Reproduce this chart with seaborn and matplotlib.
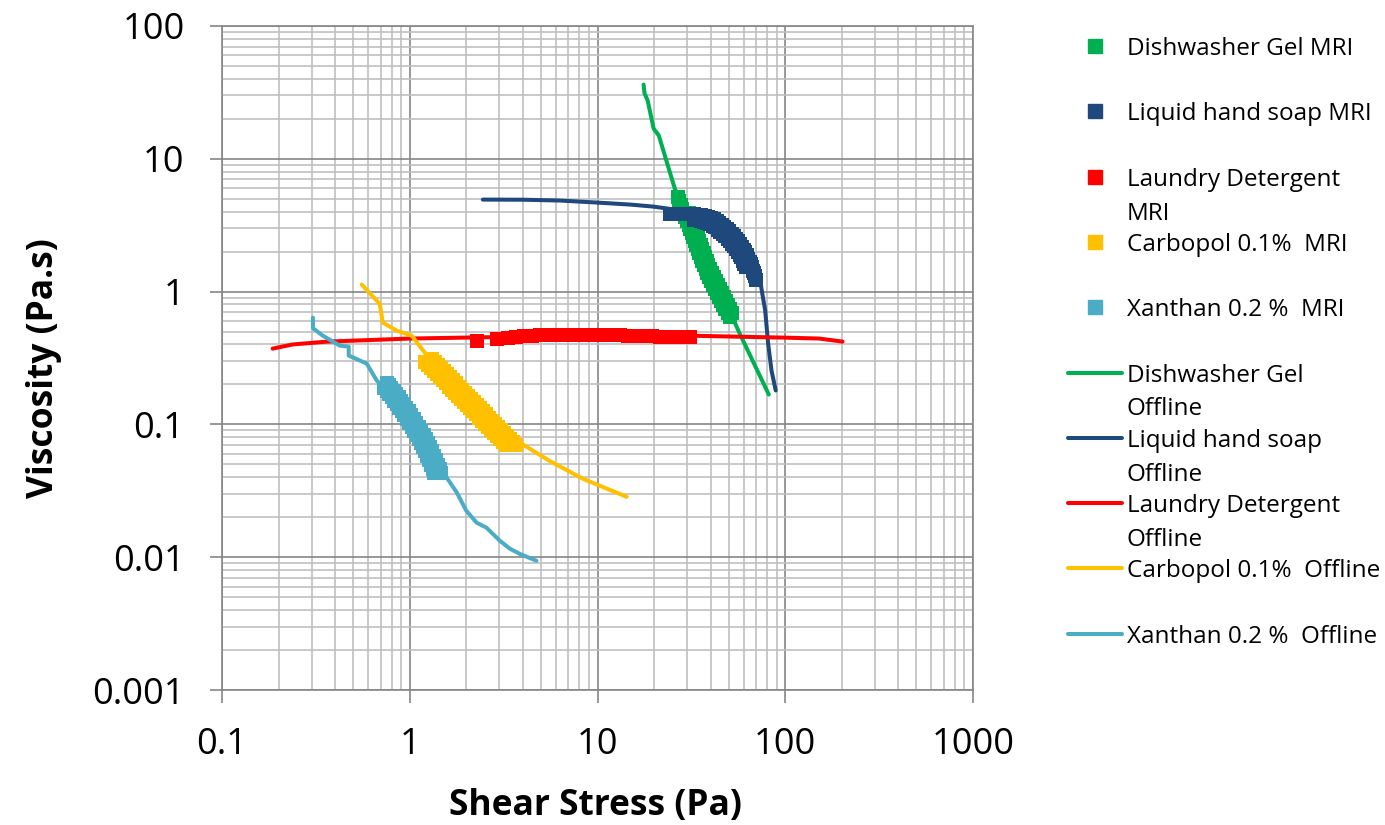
import matplotlib
matplotlib.use("Agg")
import matplotlib.pyplot as plt
from matplotlib.lines import Line2D
from matplotlib.ticker import LogLocator, NullFormatter, FuncFormatter
import numpy as np
import pandas as pd
import seaborn as sns

# ---------------------------------------------------------------------------
# data (shear stress in Pa, viscosity in Pa.s)

samples = ["Dishwasher Gel", "Liquid hand soap", "Laundry Detergent",
           "Carbopol 0.1%", "Xanthan 0.2 %"]
colors = ["#00B050", "#1F497D", "#FF0000", "#FFC000", "#4BACC6"]

# offline rheometer curves
dish_off_x = [17.6, 17.8, 18.5, 19.9, 21.2, 25.8, 37.3, 57.2, 81.7]
dish_off_y = [36.2, 31.1, 27.5, 16.9, 15.0, 5.97, 1.87, 0.483, 0.168]

soap_off_x = [2.45, 4.0, 6.3, 10, 15, 19.7, 24.2, 32.2, 44.8, 57, 67, 73, 78.2, 81, 84.5, 89]
soap_off_y = [4.93, 4.92, 4.85, 4.68, 4.52, 4.37, 4.2, 3.87, 3.14, 2.42, 1.8, 1.27, 0.72, 0.41, 0.254, 0.18]

laundry_off_x = [0.186, 0.238, 0.362, 1.0, 3.0, 10, 30, 100, 152, 202]
laundry_off_y = [0.372, 0.40, 0.42, 0.443, 0.455, 0.466, 0.466, 0.45, 0.443, 0.42]

carbo_off_x = [0.555, 0.692, 0.718, 0.853, 1.025, 1.2, 2.06, 3.85, 5.57, 8.35, 14.3]
carbo_off_y = [1.13, 0.81, 0.585, 0.508, 0.466, 0.348, 0.1475, 0.073, 0.053, 0.039, 0.0285]

xan_off_x = [0.305, 0.305, 0.344, 0.424, 0.473, 0.473, 0.59, 0.667, 0.863, 1.103,
             1.359, 1.574, 1.78, 2.0, 2.27, 2.56, 3.02, 3.41, 3.85, 4.73]
xan_off_y = [0.637, 0.53, 0.466, 0.392, 0.385, 0.33, 0.287, 0.214, 0.151, 0.0898,
             0.0498, 0.0397, 0.0307, 0.0224, 0.0182, 0.0167, 0.0133, 0.0116, 0.0106, 0.0094]

# MRI measurements (dense point clouds, two rows across each band)
dish_mri_x = [26.80, 27.25, 27.80, 28.31, 28.87, 29.41, 29.95, 30.55, 31.11, 31.69,
              32.28, 32.88, 33.49, 34.11, 34.75, 35.39, 36.05, 36.76, 37.63, 38.51,
              39.42, 40.30, 41.25, 42.23, 43.23, 44.30, 45.50, 46.75, 48.03, 49.28, 50.64,
              30.60, 31.17, 31.75, 32.38, 32.98, 33.59, 34.22, 34.85, 35.50, 36.16,
              36.84, 37.51, 38.21, 38.97, 39.89, 40.82, 41.79, 42.72, 43.73, 44.76,
              45.82, 46.96, 48.23, 49.56, 50.91, 52.24]
dish_mri_y = [5.19, 4.84, 4.52, 4.22, 3.93, 3.67, 3.42, 3.19, 2.98, 2.78,
              2.59, 2.42, 2.26, 2.11, 1.96, 1.83, 1.71, 1.59, 1.49, 1.39,
              1.29, 1.21, 1.13, 1.05, 0.98, 0.915, 0.854, 0.797, 0.743, 0.694, 0.647,
              3.93, 3.67, 3.42, 3.19, 2.98, 2.78, 2.59, 2.42, 2.26, 2.11,
              1.96, 1.83, 1.71, 1.59, 1.49, 1.39, 1.29, 1.21, 1.13, 1.05,
              0.98, 0.915, 0.854, 0.797, 0.743, 0.694]

soap_mri_x = [24.26, 25.32, 26.44, 27.59, 28.80, 30.06, 31.38, 32.76, 34.20, 35.70,
              37.26, 38.66, 40.11, 41.61, 43.17, 44.52, 45.91, 47.33, 48.81, 50.31,
              51.88, 53.17, 54.49, 55.85, 57.24, 58.66, 60.12, 61.24, 62.37, 63.52,
              64.69, 65.49, 66.31, 67.12, 67.95, 68.79, 69.65,
              32.56, 33.99, 35.47, 36.80, 38.18, 39.61, 41.10, 42.38, 43.71, 45.06,
              46.47, 47.90, 49.39, 50.62, 51.87, 53.17, 54.49, 55.84, 57.23, 58.30,
              59.38, 60.47, 61.58]
soap_mri_y = [3.87, 3.87, 3.87, 3.87, 3.87, 3.87, 3.87, 3.83, 3.80, 3.77,
              3.74, 3.67, 3.61, 3.52, 3.42, 3.31, 3.20, 3.09, 2.98, 2.86,
              2.73, 2.62, 2.51, 2.40, 2.30, 2.18, 2.07, 1.97, 1.87, 1.77,
              1.68, 1.60, 1.52, 1.44, 1.37, 1.30, 1.23,
              3.48, 3.46, 3.43, 3.37, 3.31, 3.23, 3.14, 3.04, 2.93, 2.83,
              2.73, 2.62, 2.50, 2.40, 2.30, 2.20, 2.11, 2.00, 1.90, 1.81,
              1.71, 1.62, 1.54]

laundry_mri_x = [2.27, 2.91, 3.33, 3.67, 4.05, 4.47, 4.93, 5.43, 5.99, 6.61, 7.29, 8.04,
                 8.87, 9.79, 10.8, 11.9, 13.1, 14.5, 16.0, 17.6, 19.5, 21.5, 23.7, 26.1,
                 28.8, 31.0]
laundry_mri_y = [0.428, 0.443, 0.450, 0.458, 0.466, 0.466, 0.475, 0.475, 0.475, 0.475,
                 0.475, 0.475, 0.475, 0.475, 0.475, 0.475, 0.475, 0.466, 0.466, 0.466,
                 0.466, 0.458, 0.458, 0.458, 0.458, 0.458]

carbo_mri_x = [1.310, 1.359, 1.410, 1.463, 1.518, 1.575, 1.634, 1.695, 1.759, 1.825,
               1.893, 1.964, 2.038, 2.114, 2.193, 2.276, 2.361, 2.449, 2.541, 2.637,
               2.735, 2.838, 2.944, 3.055, 3.169, 3.288, 3.412, 3.540, 3.672,
               1.202, 1.248, 1.294, 1.343, 1.393, 1.446, 1.500, 1.556, 1.614,
               1.675, 1.738, 1.803, 1.870, 1.940, 2.013, 2.089, 2.167, 2.248, 2.333,
               2.420, 2.511, 2.605, 2.703, 2.804, 2.909, 3.018, 3.132, 3.249]
carbo_mri_y = [0.3130, 0.2966, 0.2811, 0.2664, 0.2524, 0.2392, 0.2267, 0.2148, 0.2035,
               0.1929, 0.1828, 0.1732, 0.1641, 0.1555, 0.1474, 0.1397, 0.1324, 0.1254,
               0.1188, 0.1126, 0.1067, 0.1011, 0.0958, 0.0908, 0.0861, 0.0816, 0.0773,
               0.0732, 0.0694,
               0.2966, 0.2811, 0.2664, 0.2524, 0.2392, 0.2267, 0.2148, 0.2035,
               0.1929, 0.1828, 0.1732, 0.1641, 0.1555, 0.1474, 0.1397, 0.1324, 0.1254,
               0.1188, 0.1126, 0.1067, 0.1011, 0.0958, 0.0908, 0.0861, 0.0816, 0.0773,
               0.0732, 0.0694]

xan_mri_x = [0.760, 0.779, 0.797, 0.822, 0.849, 0.875, 0.902, 0.930, 0.959, 0.989,
             1.020, 1.051, 1.084, 1.118, 1.153, 1.188, 1.226, 1.256, 1.287, 1.319,
             1.352, 1.386, 1.420, 1.446, 1.473,
             0.730, 0.753, 0.777, 0.801, 0.826, 0.852, 0.879, 0.905, 0.934,
             0.963, 0.992, 1.024, 1.056, 1.088, 1.123, 1.150, 1.179, 1.208, 1.238,
             1.269, 1.301, 1.325, 1.349]
xan_mri_y = [0.2064, 0.1977, 0.1893, 0.1797, 0.1705, 0.1605, 0.1511, 0.1422, 0.1338,
             0.1259, 0.1185, 0.1106, 0.1032, 0.0962, 0.0898, 0.0838, 0.0781, 0.0729,
             0.0680, 0.0630, 0.0582, 0.0538, 0.0498, 0.0465, 0.0434,
             0.1893, 0.1797, 0.1705, 0.1605, 0.1511, 0.1422, 0.1338, 0.1259,
             0.1185, 0.1106, 0.1032, 0.0962, 0.0898, 0.0838, 0.0781, 0.0729,
             0.0680, 0.0630, 0.0582, 0.0538, 0.0498, 0.0465, 0.0434]

x_ticks = [0.1, 1, 10, 100, 1000]
y_ticks = [0.001, 0.01, 0.1, 1, 10, 100]

legend_labels = [
    "Dishwasher Gel MRI", "Liquid hand soap MRI", "Laundry Detergent\nMRI",
    "Carbopol 0.1%  MRI", "Xanthan 0.2 %  MRI",
    "Dishwasher Gel\nOffline", "Liquid hand soap\nOffline", "Laundry Detergent\nOffline",
    "Carbopol 0.1%  Offline", "Xanthan 0.2 %  Offline",
]

# ---------------------------------------------------------------------------

offline = pd.concat([
    pd.DataFrame({"stress": x, "visc": y, "sample": s})
    for s, x, y in zip(samples,
                       [dish_off_x, soap_off_x, laundry_off_x, carbo_off_x, xan_off_x],
                       [dish_off_y, soap_off_y, laundry_off_y, carbo_off_y, xan_off_y])
], ignore_index=True)

mri = pd.concat([
    pd.DataFrame({"stress": x, "visc": y, "sample": s})
    for s, x, y in zip(samples,
                       [dish_mri_x, soap_mri_x, laundry_mri_x, carbo_mri_x, xan_mri_x],
                       [dish_mri_y, soap_mri_y, laundry_mri_y, carbo_mri_y, xan_mri_y])
], ignore_index=True)

palette = dict(zip(samples, colors))

sns.set_theme(style="white")
plt.rcParams["font.family"] = ["Open Sans", "DejaVu Sans"]

W, H = 1385, 825
fig = plt.figure(figsize=(W / 100, H / 100), dpi=100)
ax = fig.add_axes([222 / W, 1 - 690 / H, (973 - 222) / W, (690 - 26) / H])

ax.set_xscale("log")
ax.set_yscale("log")

sns.lineplot(data=offline, x="stress", y="visc", hue="sample", hue_order=samples,
             palette=palette, sort=False, estimator=None, lw=2.9, legend=False,
             ax=ax, zorder=2)
for s in samples:
    sns.scatterplot(data=mri[mri["sample"] == s], x="stress", y="visc", color=palette[s],
                    marker="s", s=88, linewidth=0, legend=False, ax=ax, zorder=3)

ax.set_xlim(0.1, 1000)
ax.set_ylim(0.001, 100)

major_c, minor_c = "#868686", "#C0C0C0"
for axis in (ax.xaxis, ax.yaxis):
    axis.set_major_locator(LogLocator(base=10, numticks=20))
    axis.set_minor_locator(LogLocator(base=10, subs=np.arange(2, 10), numticks=100))
    axis.set_minor_formatter(NullFormatter())
    axis.set_major_formatter(FuncFormatter(lambda v, p: f"{v:g}"))
ax.set_xticks(x_ticks)
ax.set_yticks(y_ticks)

ax.grid(which="minor", color=minor_c, lw=1.2)
ax.grid(which="major", color=major_c, lw=1.2)
ax.set_axisbelow(True)
for sp in ax.spines.values():
    sp.set_color(major_c)
    sp.set_linewidth(1.2)

ax.tick_params(which="major", bottom=True, left=True, length=9, width=1.2,
               color=major_c, labelsize=26, labelcolor="black", pad=18)
ax.tick_params(which="minor", length=0)

ax.set_xlabel("Shear Stress (Pa)", fontsize=25.5, fontweight="bold", color="black")
ax.set_ylabel("Viscosity (Pa.s)", fontsize=25.5, fontweight="bold", color="black")
ax.xaxis.label.set_va("center")
ax.yaxis.label.set_va("center")
ax.xaxis.set_label_coords(0.497, -0.175)
ax.yaxis.set_label_coords(-0.237, 0.485)

# legend, laid out the way the spreadsheet does it: one slot per entry,
# handle next to the first text line
slot0, slot_step, line_step = 46, 65.3, 34
for i, label in enumerate(legend_labels):
    c = colors[i % 5]
    yc = slot0 + i * slot_step
    fy = 1 - yc / H
    if i < 5:
        fig.add_artist(Line2D([1095 / W], [fy], marker="s", ms=10, color=c, lw=0,
                              transform=fig.transFigure))
    else:
        fig.add_artist(Line2D([1068 / W, 1122 / W], [fy, fy], color=c, lw=2.9,
                              solid_capstyle="round", transform=fig.transFigure))
    for j, line in enumerate(label.split("\n")):
        fig.text(1127 / W, 1 - (yc + j * line_step) / H, line, fontsize=17.5,
                 va="center_baseline", ha="left", color="black")

fig.savefig("out.png", dpi=100)
